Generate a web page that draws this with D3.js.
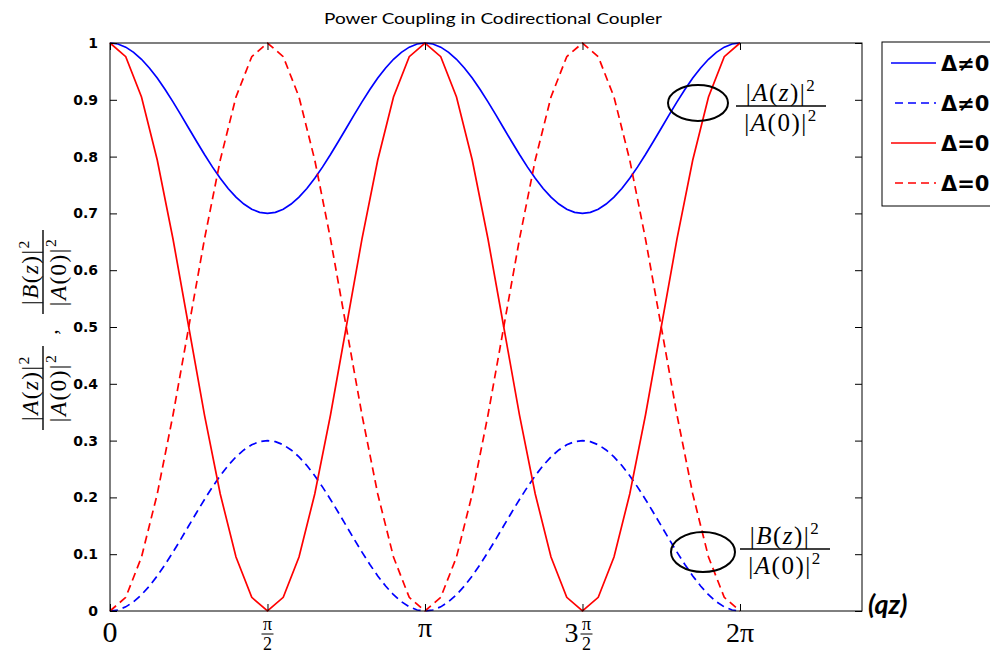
<!DOCTYPE html>
<html><head><meta charset="utf-8">
<script src="https://cdn.jsdelivr.net/npm/d3@7/dist/d3.min.js"></script>
<style>body{margin:0;background:#fff;} svg{display:block;}</style>
</head><body>
<script>
// qz sample positions (units of pi) for the Delta=0 curves
const qzRed = [0,0.05,0.1,0.15,0.2,0.25,0.3,0.35,0.4,0.45,0.5,0.55,0.6,0.65,0.7,0.75,0.8,0.85,0.9,0.95,1.0,
  1.05,1.1,1.15,1.2,1.25,1.3,1.35,1.4,1.45,1.5,1.55,1.6,1.65,1.7,1.75,1.8,1.85,1.9,1.95,2.0];
// |A|^2 for Delta=0
const redSolid = [1,0.976,0.905,0.794,0.655,0.5,0.345,0.206,0.095,0.024,0,0.024,0.095,0.206,0.345,0.5,0.655,0.794,0.905,0.976,1,
  0.976,0.905,0.794,0.655,0.5,0.345,0.206,0.095,0.024,0,0.024,0.095,0.206,0.345,0.5,0.655,0.794,0.905,0.976,1];
// |B|^2 for Delta=0
const redDashed = [0,0.024,0.095,0.206,0.345,0.5,0.655,0.794,0.905,0.976,1,0.976,0.905,0.794,0.655,0.5,0.345,0.206,0.095,0.024,0,
  0.024,0.095,0.206,0.345,0.5,0.655,0.794,0.905,0.976,1,0.976,0.905,0.794,0.655,0.5,0.345,0.206,0.095,0.024,0];
// qz sample positions (units of pi) for the Delta!=0 curves
const qzBlue = [0,0.025,0.05,0.075,0.1,0.125,0.15,0.175,0.2,0.225,0.25,0.275,0.3,0.325,0.35,0.375,0.4,0.425,0.45,0.475,0.5,
  0.525,0.55,0.575,0.6,0.625,0.65,0.675,0.7,0.725,0.75,0.775,0.8,0.825,0.85,0.875,0.9,0.925,0.95,0.975,1.0,
  1.025,1.05,1.075,1.1,1.125,1.15,1.175,1.2,1.225,1.25,1.275,1.3,1.325,1.35,1.375,1.4,1.425,1.45,1.475,1.5,
  1.525,1.55,1.575,1.6,1.625,1.65,1.675,1.7,1.725,1.75,1.775,1.8,1.825,1.85,1.875,1.9,1.925,1.95,1.975,2.0];
// |B|^2 for Delta!=0
const blueDashed = [0,0.0018,0.0073,0.0164,0.0286,0.0439,0.0618,0.0819,0.1036,0.1265,0.15,0.1735,0.1964,0.2181,0.2382,0.2561,0.2714,0.2836,0.2927,0.2982,0.3,
  0.2982,0.2927,0.2836,0.2714,0.2561,0.2382,0.2181,0.1964,0.1735,0.15,0.1265,0.1036,0.0819,0.0618,0.0439,0.0286,0.0164,0.0073,0.0018,0,
  0.0018,0.0073,0.0164,0.0286,0.0439,0.0618,0.0819,0.1036,0.1265,0.15,0.1735,0.1964,0.2181,0.2382,0.2561,0.2714,0.2836,0.2927,0.2982,0.3,
  0.2982,0.2927,0.2836,0.2714,0.2561,0.2382,0.2181,0.1964,0.1735,0.15,0.1265,0.1036,0.0819,0.0618,0.0439,0.0286,0.0164,0.0073,0.0018,0];
// |A|^2 for Delta!=0
const blueSolid = [1,0.9982,0.9927,0.9836,0.9714,0.9561,0.9382,0.9181,0.8964,0.8735,0.85,0.8265,0.8036,0.7819,0.7618,0.7439,0.7286,0.7164,0.7073,0.7018,0.7,
  0.7018,0.7073,0.7164,0.7286,0.7439,0.7618,0.7819,0.8036,0.8265,0.85,0.8735,0.8964,0.9181,0.9382,0.9561,0.9714,0.9836,0.9927,0.9982,1,
  0.9982,0.9927,0.9836,0.9714,0.9561,0.9382,0.9181,0.8964,0.8735,0.85,0.8265,0.8036,0.7819,0.7618,0.7439,0.7286,0.7164,0.7073,0.7018,0.7,
  0.7018,0.7073,0.7164,0.7286,0.7439,0.7618,0.7819,0.8036,0.8265,0.85,0.8735,0.8964,0.9181,0.9382,0.9561,0.9714,0.9836,0.9927,0.9982,1];

const xTickVals = [0, 0.5, 1, 1.5, 2]; // in units of pi
const yTickVals = [0,0.1,0.2,0.3,0.4,0.5,0.6,0.7,0.8,0.9,1];
const legendLabels = ["Δ≠0","Δ≠0","Δ=0","Δ=0"];
const titleText = "Power Coupling in Codirectional Coupler";

const W=990,H=654;
const m={l:110,t:43,r:862,b:611};
const svg=d3.select("body").append("svg").attr("width",W).attr("height",H);
const x=d3.scaleLinear().domain([0,7.5]).range([m.l,m.r]);
const y=d3.scaleLinear().domain([0,1]).range([m.b,m.t]);

const series=[
 {q:qzBlue,v:blueSolid,c:"#0000ff",d:null},
 {q:qzBlue,v:blueDashed,c:"#0000ff",d:"8,5"},
 {q:qzRed,v:redSolid,c:"#ff0000",d:null},
 {q:qzRed,v:redDashed,c:"#ff0000",d:"8,5"}
];
const plot=svg.append("g");
series.forEach(s=>{
  const line=d3.line().x((d,i)=>x(s.q[i]*Math.PI)).y(d=>y(d));
  plot.append("path").datum(s.v).attr("d",line).attr("fill","none")
   .attr("stroke",s.c).attr("stroke-width",1.7).attr("stroke-dasharray",s.d);
});

svg.append("rect").attr("x",m.l).attr("y",m.t).attr("width",m.r-m.l).attr("height",m.b-m.t)
  .attr("fill","none").attr("stroke","#000").attr("stroke-width",1);

const yAxL=d3.axisLeft(y).tickValues(yTickVals).tickSize(-7).tickFormat(d=>d3.format("~g")(d)).tickPadding(12);
const gy=svg.append("g").attr("transform",`translate(${m.l},0)`).call(yAxL);
gy.select(".domain").remove();
gy.selectAll("text").attr("font-family","DejaVu Sans").attr("font-weight","bold").attr("font-size",14).attr("fill","#000");
const yAxR=d3.axisRight(y).tickValues(yTickVals).tickSize(-7).tickFormat("");
const gyr=svg.append("g").attr("transform",`translate(${m.r},0)`).call(yAxR);
gyr.select(".domain").remove();

const xAxB=d3.axisBottom(x).tickValues(xTickVals.map(v=>v*Math.PI)).tickSize(-7).tickFormat("");
const gx=svg.append("g").attr("transform",`translate(0,${m.b})`).call(xAxB);
gx.select(".domain").remove();
const xAxT=d3.axisTop(x).tickValues(xTickVals.map(v=>v*Math.PI)).tickSize(-7).tickFormat("");
const gxt=svg.append("g").attr("transform",`translate(0,${m.t})`).call(xAxT);
gxt.select(".domain").remove();

const serif="Liberation Serif, Times New Roman, serif";
function fracPi2(cx){
  const g=svg.append("g").attr("font-family",serif).attr("fill","#000");
  g.append("text").attr("x",cx).attr("y",630).attr("text-anchor","middle").attr("font-size",18).text("π");
  g.append("line").attr("x1",cx-6).attr("x2",cx+6).attr("y1",634).attr("y2",634).attr("stroke","#000").attr("stroke-width",1);
  g.append("text").attr("x",cx).attr("y",650).attr("text-anchor","middle").attr("font-size",18).text("2");
}
svg.append("text").attr("x",x(0)).attr("y",642).attr("text-anchor","middle").attr("font-family",serif).attr("font-size",30).text("0");
fracPi2(x(0.5*Math.PI));
svg.append("text").attr("x",x(Math.PI)).attr("y",637).attr("text-anchor","middle").attr("font-family",serif).attr("font-size",28).text("π");
svg.append("text").attr("x",x(1.5*Math.PI)-11).attr("y",642).attr("text-anchor","middle").attr("font-family",serif).attr("font-size",28).text("3");
fracPi2(x(1.5*Math.PI)+4);
svg.append("text").attr("x",x(2*Math.PI)).attr("y",642).attr("text-anchor","middle").attr("font-family",serif).attr("font-size",28).text("2π");

svg.append("text").attr("x",493).attr("y",24).attr("text-anchor","middle")
  .attr("font-family","Lato, Open Sans, sans-serif").attr("font-size",16)
  .attr("textLength",338).attr("lengthAdjust","spacingAndGlyphs").text(titleText);

svg.append("text").attr("x",868).attr("y",614).attr("font-family","Lato, Open Sans, sans-serif")
  .attr("font-weight","bold").attr("font-style","italic").attr("font-size",27).text("(qz)");

function frac(g, cx, yb, L, fs, w){
  const num=g.append("text").attr("x",cx).attr("y",yb-5).attr("text-anchor","middle").attr("font-family",serif)
    .attr("font-size",fs).attr("letter-spacing",1.5);
  num.append("tspan").text("|");
  num.append("tspan").attr("font-style","italic").text(L);
  num.append("tspan").text("(");
  num.append("tspan").attr("font-style","italic").text("z");
  num.append("tspan").text(")|");
  num.append("tspan").attr("dy",-fs*0.4).attr("font-size",fs*0.68).text("2");
  g.append("line").attr("x1",cx-w/2).attr("x2",cx+w/2).attr("y1",yb).attr("y2",yb).attr("stroke","#000").attr("stroke-width",1.4);
  const den=g.append("text").attr("x",cx).attr("y",yb+fs*0.98).attr("text-anchor","middle").attr("font-family",serif)
    .attr("font-size",fs).attr("letter-spacing",1.5);
  den.append("tspan").text("|");
  den.append("tspan").attr("font-style","italic").text("A");
  den.append("tspan").text("(0)|");
  den.append("tspan").attr("dy",-fs*0.4).attr("font-size",fs*0.68).text("2");
}

const ann=svg.append("g");
ann.append("ellipse").attr("cx",698).attr("cy",103).attr("rx",30).attr("ry",18).attr("fill","none").attr("stroke","#000").attr("stroke-width",2);
frac(ann,781,106,"A",25,90);
ann.append("ellipse").attr("cx",703).attr("cy",552).attr("rx",32).attr("ry",20).attr("fill","none").attr("stroke","#000").attr("stroke-width",2);
frac(ann,785,549,"B",25,90);

const yl=svg.append("g").attr("transform","translate(43,328) rotate(-90)");
frac(yl,-60,0,"A",23,84);
yl.append("text").attr("x",-4).attr("y",14).attr("text-anchor","middle").attr("font-family",serif).attr("font-size",22).text(",");
frac(yl,56,0,"B",23,84);

const lg=svg.append("g");
lg.append("rect").attr("x",882).attr("y",42).attr("width",120).attr("height",164).attr("fill","#fff").attr("stroke","#000").attr("stroke-width",1);
const rows=[63,103,143,183];
series.forEach((s,i)=>{
  lg.append("line").attr("x1",s.d?895:891).attr("x2",936).attr("y1",rows[i]).attr("y2",rows[i])
    .attr("stroke",s.c).attr("stroke-width",1.6).attr("stroke-dasharray",s.d);
  lg.append("text").attr("x",941).attr("y",rows[i]+8).attr("font-family","DejaVu Sans").attr("font-weight","bold")
    .attr("font-size",21).text(legendLabels[i]);
});
</script>
</body></html>
